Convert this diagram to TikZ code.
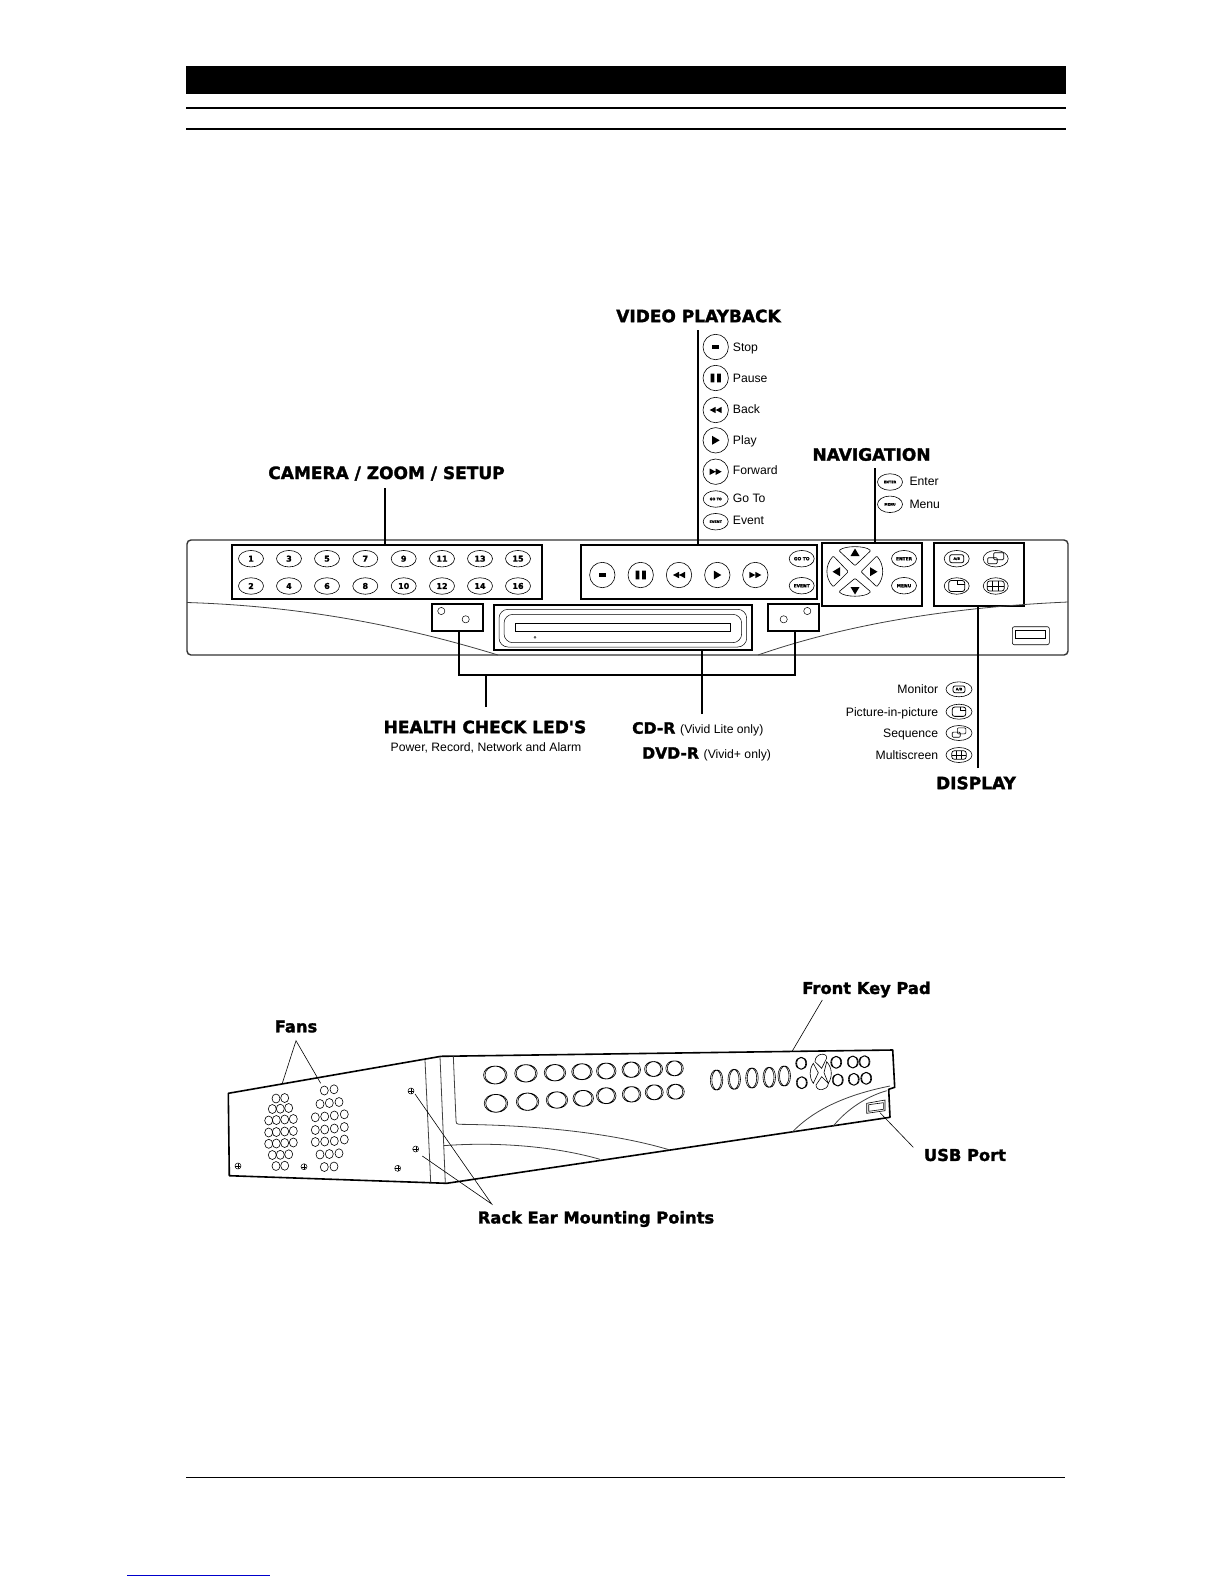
\documentclass[tikz,border=0pt]{standalone}
\usepackage{fontspec}
\usepackage{xcolor}
\usepackage{tikz}
\usetikzlibrary{shapes.geometric}
\setmainfont{Liberation Sans}
\newfontfamily\heavyfont[BoldFeatures={FakeBold=1.7}]{DejaVu Sans}
\tikzstyle{panel}=[draw=black, line width=2pt, shape=rectangle, inner sep=0pt]
\tikzstyle{key}=[draw=black, shape=ellipse, line width=0.6pt, minimum width=25pt, minimum height=16.5pt, inner sep=0pt, font=\heavyfont\bfseries\fontsize{8}{8}\selectfont]
\tikzstyle{word key}=[style=key, font=\heavyfont\bfseries\fontsize{4.4}{4.4}\selectfont]
\tikzstyle{tiny key}=[style=key, font=\heavyfont\bfseries\fontsize{3.4}{3.4}\selectfont]
\tikzstyle{round key}=[draw=black, shape=circle, line width=0.6pt, minimum size=25.4pt, inner sep=0pt]
\tikzstyle{led}=[draw=black, shape=circle, line width=0.5pt, minimum size=7.2pt, inner sep=0pt]
\tikzstyle{head}=[font=\heavyfont\bfseries\fontsize{17}{17}\selectfont, inner sep=0pt]
\tikzstyle{disc head}=[font=\heavyfont\bfseries\fontsize{15.6}{15.6}\selectfont, inner sep=0pt]
\tikzstyle{sub head}=[font=\heavyfont\bfseries\fontsize{16.3}{16.3}\selectfont, inner sep=0pt]
\tikzstyle{small}=[font=\fontsize{12.2}{12.2}\selectfont, inner sep=0pt, text height=8.7pt, text depth=0pt]
\tikzstyle{screw}=[draw=black, shape=circle, line width=0.5pt, minimum size=6pt, inner sep=0pt, path picture={\draw[line width=0.4pt] (path picture bounding box.north) -- (path picture bounding box.south) (path picture bounding box.west) -- (path picture bounding box.east);}]
\tikzstyle{thick edge}=[-, draw=black, line width=2pt]
\tikzstyle{thin edge}=[-, draw=black, line width=0.6pt]
\tikzstyle{body edge}=[-, draw=black, line width=1.5pt, line join=round]
\tikzstyle{face edge}=[-, draw=black!75, line width=0.8pt]
\tikzset{
  stop sym/.pic={\fill[black] (-3.7,-2.3) rectangle (3.7,2.3);},
  pause sym/.pic={\fill[black] (-5.2,-4.4) rectangle (-1.4,4.4) (1.4,-4.4) rectangle (5.2,4.4);},
  back sym/.pic={\fill[black] (0,-3.2) -- (0,3.2) -- (-6,0) -- cycle (6,-3.2) -- (6,3.2) -- (0,0) -- cycle;},
  play sym/.pic={\fill[black] (-3.5,-4.4) -- (-3.5,4.4) -- (4,0) -- cycle;},
  fwd sym/.pic={\fill[black] (0,-3.2) -- (0,3.2) -- (6,0) -- cycle (-6,-3.2) -- (-6,3.2) -- (0,0) -- cycle;},
  ab sym/.pic={\draw[line width=0.8pt, rounded corners=2pt] (-7,-4) rectangle (7,4); \node[inner sep=0pt, font=\heavyfont\bfseries\fontsize{3.4}{3.4}\selectfont] {A/B};},
  seq sym/.pic={\draw[line width=0.6pt, rounded corners=1pt] (-2,-6) rectangle (8,1) (-8,-1) rectangle (1.5,5);},
  pip sym/.pic={\draw[line width=0.8pt, rounded corners=2.5pt] (-8,-5.5) rectangle (8,5.5); \draw[line width=0.6pt] (1,-5.5) -- (1,-2) -- (8,-2);},
  grid sym/.pic={\draw[line width=0.7pt, rounded corners=2.5pt] (-8.5,-5) rectangle (8.5,5); \draw[line width=0.6pt] (-8.5,0) -- (8.5,0) (-3,-5) -- (-3,5) (3,-5) -- (3,5);}
}
\pgfdeclarelayer{nodelayer}
\pgfdeclarelayer{edgelayer}
\pgfsetlayers{nodelayer,edgelayer,main}

\begin{document}
\begin{tikzpicture}[x=1pt, y=-1pt]
	\useasboundingbox (0,0) rectangle (1225,1585);
	\begin{pgfonlayer}{nodelayer}
		% page furniture
		\fill [black] (186,66) rectangle (1066,94);
		\draw [line width=2pt] (186,108) -- (1066,108);
		\draw [line width=2pt] (186,128.5) -- (1066,128.5);
		\draw [line width=0.8pt] (186,1477) -- (1065,1477);
		\draw [line width=0.8pt, draw=blue!80!black] (127,1575) -- (270,1575);

		% front panel
		\node [style=panel, minimum width=309.4pt, minimum height=54pt] (keypad) at (387,572) {};
		\node [style=panel, minimum width=236.6pt, minimum height=54pt] (playback) at (699,572) {};
		\node [style=panel, minimum width=100pt, minimum height=63pt] (nav) at (872.3,574.5) {};
		\node [style=panel, minimum width=90.3pt, minimum height=63pt] (display) at (978.9,574.5) {};
		\node [style=panel, minimum width=51.6pt, minimum height=27pt] (ledl) at (457.5,617.5) {};
		\node [style=panel, minimum width=51pt, minimum height=27pt] (ledr) at (793.2,617.5) {};
		\node [style=panel, minimum width=258.3pt, minimum height=45.3pt] (drive) at (623.2,627.3) {};

		\node [style=key] (k1) at (251,558.7) {1};
		\node [style=key] (k3) at (289,558.7) {3};
		\node [style=key] (k5) at (327,558.7) {5};
		\node [style=key] (k7) at (365.3,558.7) {7};
		\node [style=key] (k9) at (403.7,558.7) {9};
		\node [style=key] (k11) at (442,558.7) {11};
		\node [style=key] (k13) at (480,558.7) {13};
		\node [style=key] (k15) at (518,558.7) {15};
		\node [style=key] (k2) at (251,586) {2};
		\node [style=key] (k4) at (289,586) {4};
		\node [style=key] (k6) at (327,586) {6};
		\node [style=key] (k8) at (365.3,586) {8};
		\node [style=key] (k10) at (403.7,586) {10};
		\node [style=key] (k12) at (442,586) {12};
		\node [style=key] (k14) at (480,586) {14};
		\node [style=key] (k16) at (518,586) {16};

		\node [style=round key] (stop) at (602.3,575) {};
		\node [style=round key] (pause) at (640.7,575) {};
		\node [style=round key] (back) at (679,575) {};
		\node [style=round key] (play) at (717.3,575) {};
		\node [style=round key] (fwd) at (755.3,575) {};
		\pic at (stop) {stop sym};
		\pic at (pause) {pause sym};
		\pic at (back) {back sym};
		\pic at (play) {play sym};
		\pic at (fwd) {fwd sym};
		\node [style=word key] (goto) at (801.7,558.7) {GO TO};
		\node [style=word key] (event) at (801.7,585.7) {EVENT};

		\node [style=word key] (enter) at (904,558.7) {ENTER};
		\node [style=word key] (menu) at (904,585.7) {MENU};
		\draw [line width=0.6pt, rounded corners=1pt] (839,550.7) .. controls (845,545.5) and (865,545.5) .. (870.7,550.7) -- (855,565.7) -- cycle;
		\draw [line width=0.6pt, rounded corners=1pt] (839,591.7) .. controls (845,597.5) and (865,597.5) .. (870.7,591.7) -- (855,578.3) -- cycle;
		\draw [line width=0.6pt, rounded corners=1pt] (833.3,556) .. controls (825,565) and (825,578) .. (833.3,586.7) -- (848.3,571.7) -- cycle;
		\draw [line width=0.6pt, rounded corners=1pt] (876.7,556) .. controls (884.5,565) and (884.5,578) .. (876.7,586.7) -- (861,571.7) -- cycle;
		\fill [black] (855,548.5) -- (850.5,556) -- (859.5,556) -- cycle;
		\fill [black] (855,594.5) -- (850.5,587) -- (859.5,587) -- cycle;
		\fill [black] (832.5,571.7) -- (840,567.2) -- (840,576.2) -- cycle;
		\fill [black] (877.5,571.7) -- (870,567.2) -- (870,576.2) -- cycle;

		\node [style=key] (ab) at (956.7,558.7) {};
		\node [style=key] (seq) at (995.7,558.7) {};
		\node [style=key] (pip) at (956.7,586) {};
		\node [style=key] (grid) at (995.7,586) {};
		\pic at (ab) {ab sym};
		\pic at (seq) {seq sym};
		\pic at (pip) {pip sym};
		\pic at (grid) {grid sym};

		\node [style=led] (l1) at (441.3,611) {};
		\node [style=led] (l2) at (465.7,619.3) {};
		\node [style=led] (l3) at (783.7,619.3) {};
		\node [style=led] (l4) at (807.3,611) {};

		\draw [line width=0.5pt, rounded corners=9pt] (499,609.3) rectangle (746.7,647);
		\draw [line width=0.5pt, rounded corners=9pt] (504,614.3) rectangle (741.7,642.7);
		\draw [line width=0.5pt] (515.7,623.3) rectangle (730,631.7);
		\node [draw, shape=circle, minimum size=2pt, inner sep=0pt, line width=0.4pt] (dot) at (535,637.3) {};

		\draw [line width=0.6pt, rounded corners=2pt] (1012.3,626.7) rectangle (1049.3,644.7);
		\draw [line width=0.6pt] (1015.7,630) rectangle (1045.7,638.3);

		% legends
		\node [style=round key] (lstop) at (715.7,347) {};
		\node [style=round key] (lpause) at (715.7,378) {};
		\node [style=round key] (lback) at (715.7,410) {};
		\node [style=round key] (lplay) at (715.7,440.3) {};
		\node [style=round key] (lfwd) at (715.7,471.7) {};
		\pic at (lstop) {stop sym};
		\pic at (lpause) {pause sym};
		\pic at (lback) {back sym};
		\pic at (lplay) {play sym};
		\pic at (lfwd) {fwd sym};
		\node [style=tiny key] (lgoto) at (715.7,499) {GO TO};
		\node [style=tiny key] (levent) at (715.7,521.7) {EVENT};
		\node [style=small, anchor=west] (t1) at (732.7,347) {Stop};
		\node [style=small, anchor=west] (t2) at (732.7,378) {Pause};
		\node [style=small, anchor=west] (t3) at (732.7,409.5) {Back};
		\node [style=small, anchor=west] (t4) at (732.7,440) {Play};
		\node [style=small, anchor=west] (t5) at (732.7,470.5) {Forward};
		\node [style=small, anchor=west] (t6) at (732.7,498.5) {Go To};
		\node [style=small, anchor=west] (t7) at (732.7,520.5) {Event};

		\node [style=tiny key] (lenter) at (890,482) {ENTER};
		\node [style=tiny key] (lmenu) at (890,504.3) {MENU};
		\node [style=small, anchor=west] (t8) at (909.3,481.5) {Enter};
		\node [style=small, anchor=west] (t9) at (909.3,504.3) {Menu};

		\node [style=key, minimum width=26pt, minimum height=15pt] (lab) at (959,689.3) {};
		\node [style=key, minimum width=26pt, minimum height=15pt] (lpip) at (959,711.7) {};
		\node [style=key, minimum width=26pt, minimum height=15pt] (lseq) at (959,733) {};
		\node [style=key, minimum width=26pt, minimum height=15pt] (lgrid) at (959,755) {};
		\pic [scale=0.85] at (lab) {ab sym};
		\pic [scale=0.85] at (lpip) {pip sym};
		\pic [scale=0.85] at (lseq) {seq sym};
		\pic [scale=0.85] at (lgrid) {grid sym};
		\node [style=small, anchor=east] (t10) at (938.3,689.3) {Monitor};
		\node [style=small, anchor=east] (t11) at (938.3,711.7) {Picture-in-picture};
		\node [style=small, anchor=east] (t12) at (938.3,732.7) {Sequence};
		\node [style=small, anchor=east] (t13) at (938.3,755) {Multiscreen};

		% headings
		\node [style=head] (camera) at (386.5,473.5) {CAMERA / ZOOM / SETUP};
		\node [style=head] (video) at (698.5,316) {VIDEO PLAYBACK};
		\node [style=head] (navigation) at (871.5,454.5) {NAVIGATION};
		\node [style=head] (health) at (485,727) {HEALTH CHECK LED'S};
		\node [style=small] (healthsub) at (486,747) {Power, Record, Network and Alarm};
		\node [style=disc head, anchor=west] (cdr) at (632,728) {CD-R};
		\node [style=small, anchor=west] (cdrsub) at (680,729) {(Vivid Lite only)};
		\node [style=disc head, anchor=west] (dvdr) at (642,753) {DVD-R};
		\node [style=small, anchor=west] (dvdrsub) at (703.5,754) {(Vivid+ only)};
		\node [style=head] (displayhead) at (976,783) {DISPLAY};
		\node [style=sub head] (keypadhead) at (866.5,989.5) {Front Key Pad};
		\node [style=sub head] (fans) at (296,1026.5) {Fans};
		\node [style=sub head] (usb) at (965,1155) {USB Port};
		\node [style=sub head] (rack) at (596,1219) {Rack Ear Mounting Points};

		% side view
		\foreach \x/\y/\w/\h in {496/1075/22/18, 526.7/1073.3/21/17.5, 555.7/1072.7/20/16.5, 582.7/1071.7/19/16, 607/1071/18/16, 632/1069.7/17/15.5, 654.3/1069/16.5/15, 675.3/1068.3/16/15, 496.7/1103.3/22/18, 528.3/1101.7/21/17.5, 557.7/1100/20/16.5, 584/1098.3/19/16, 607/1095.7/18/16, 632.3/1094.3/17/15.5, 655/1092.3/16.5/15, 676.3/1091.7/16/15}
			\draw [line width=0.6pt, fill=white] (\x-1.5,\y) ellipse ({\w/2} and {\h/2}) (\x,\y) ellipse ({\w/2} and {\h/2});
		\foreach \x/\y in {717.3/1080, 735/1079.3, 752.7/1078, 770/1077.3, 785/1076}
			\draw [line width=0.6pt, fill=white] (\x-1.5,\y) ellipse (5.5 and 10) (\x,\y) ellipse (5.5 and 10);
		\foreach \x/\y in {801.7/1063.3, 802.3/1082.7, 836.7/1062.3, 838.3/1080, 853.3/1062, 865/1061.7, 854.3/1079.3, 866.7/1078.3}
			\draw [line width=0.6pt, fill=white] (\x-1,\y) ellipse (5 and 6) (\x,\y) ellipse (5 and 6);
		\draw [line width=0.6pt, fill=white] (813.3,1063.3) .. controls (809,1070) and (809,1077) .. (813.3,1083.3) -- (818.3,1072.7) -- cycle;
		\draw [line width=0.6pt, fill=white] (826.7,1061.7) .. controls (832.5,1068) and (832.5,1077) .. (828.3,1083.3) -- (824,1072.7) -- cycle;
		\draw [line width=0.6pt] (815,1061.7) .. controls (815,1053) and (827,1052) .. (826.7,1058) -- (821.7,1068.3) -- cycle;
		\draw [line width=0.6pt] (816,1085) .. controls (816,1092) and (828,1091) .. (828.3,1083.3) -- (821.7,1076.7) -- cycle;
		\draw [line width=0.6pt] (866.7,1103.3) -- (885,1100) -- (885,1110.7) -- (866.7,1113.3) -- cycle;
		\draw [line width=0.6pt] (868.7,1104.7) -- (883.3,1102.7) -- (883.3,1109.3) -- (868.7,1111.3) -- cycle;
		\foreach \x/\y in {276/1098.5, 284.7/1098, 272.3/1109, 280.3/1108.7, 288.7/1108, 268.7/1120.5, 276.3/1120, 284.7/1119.5, 293.3/1119, 268.7/1132.5, 276.3/1132, 284.7/1131.5, 293.3/1131, 268.7/1143.8, 276.3/1143.5, 284.7/1143, 293.3/1142.5, 272.3/1155, 280.3/1154.8, 288.7/1154.3, 276/1166, 284.7/1165.7, 324.3/1090.5, 334/1089.3, 320/1104, 329.3/1103, 339/1102, 315.3/1117.3, 324.7/1116.5, 334.3/1115.5, 344.3/1114.3, 315.3/1130, 324.7/1129.5, 334.3/1128.5, 344.3/1127, 315.3/1142, 324.7/1141.5, 334.3/1141, 344.3/1139.5, 320/1154.5, 329.3/1154, 339/1153.3, 324.3/1167, 334/1166.5}
			\draw [line width=0.6pt] (\x,\y) ellipse (4 and 4.5);
		\node [style=screw] (s1) at (238,1166) {};
		\node [style=screw] (s2) at (304,1166.7) {};
		\node [style=screw] (s3) at (397.7,1168.3) {};
		\node [style=screw] (s4) at (411,1091) {};
		\node [style=screw] (s5) at (415.7,1149) {};

		% free ends of the pointers
		\coordinate (cam top) at (385,488);
		\coordinate (video top) at (697.7,330);
		\coordinate (nav top) at (875,468);
		\coordinate (disp low) at (978.3,768);
		\coordinate (join l) at (458.7,675);
		\coordinate (join r) at (794.7,675);
		\coordinate (health top) at (486,707);
		\coordinate (drive low) at (701.7,714);
		\coordinate (fan apex) at (296,1040.7);
		\coordinate (fan a) at (282.3,1083.3);
		\coordinate (fan b) at (320.7,1083.3);
		\coordinate (rack apex) at (491.7,1204);
		\coordinate (rack a) at (415,1094);
		\coordinate (rack b) at (422.3,1156);
		\coordinate (pad top) at (822.3,1000);
		\coordinate (pad low) at (792.3,1051);
		\coordinate (usb in) at (880,1112.7);
		\coordinate (usb out) at (913.3,1147.3);
	\end{pgfonlayer}
	\begin{pgfonlayer}{edgelayer}
		% front panel outline
		\draw [line width=1.4pt, draw=black!80, rounded corners=4pt] (187,540) rectangle (1068,655);
		\draw [style=face edge] (187,602.5) .. controls (300,606) and (400,625) .. (498,655);
		\draw [style=face edge] (758,655) .. controls (830,630) and (930,608) .. (1068,602);

		\draw [style=thick edge] (cam top) to (cam top |- keypad.north);
		\draw [style=thick edge] (video top) to (video top |- playback.north);
		\draw [style=thick edge] (nav top) to (nav top |- nav.north);
		\draw [style=thick edge] (disp low) to (disp low |- display.south);
		\draw [style=thick edge] (join l |- ledl.south) to (join l) to (join r) to (join r |- ledr.south);
		\draw [style=thick edge] (health top) to (health top |- join l);
		\draw [style=thick edge] (drive low) to (drive low |- drive.south);

		% side view outline
		\draw [style=body edge, line width=1.6pt] (228.3,1093.3) -- (441,1056.3) -- (892.7,1050) -- (894.7,1087.3) -- (888.7,1089.3) -- (890,1117.3) -- (446.7,1183.3) -- (229.3,1175.7) -- cycle;
		\draw [style=face edge] (425,1060) -- (430.7,1182.7);
		\draw [style=face edge] (440,1056.7) -- (445.3,1182.7);
		\draw [style=face edge] (453.3,1056) -- (456,1120) .. controls (456,1123.5) and (457,1124.3) .. (459,1124.3) .. controls (530,1125) and (610,1132) .. (670,1150);
		\draw [style=face edge] (443.3,1145.7) .. controls (490,1142) and (550,1145) .. (600,1159.3);
		\draw [style=face edge] (791.7,1132.7) .. controls (815,1108) and (850,1094) .. (890,1086);
		\draw [style=face edge] (833.3,1126) .. controls (848,1108) and (868,1096) .. (886.7,1090.7);

		% pointers
		\draw [style=thin edge] (fan a) to (fan apex) to (fan b);
		\draw [style=thin edge] (rack a) to (rack apex) to (rack b);
		\draw [style=thin edge] (pad top) to (pad low);
		\draw [style=thin edge] (usb in) to (usb out);
	\end{pgfonlayer}
\end{tikzpicture}
\end{document}
